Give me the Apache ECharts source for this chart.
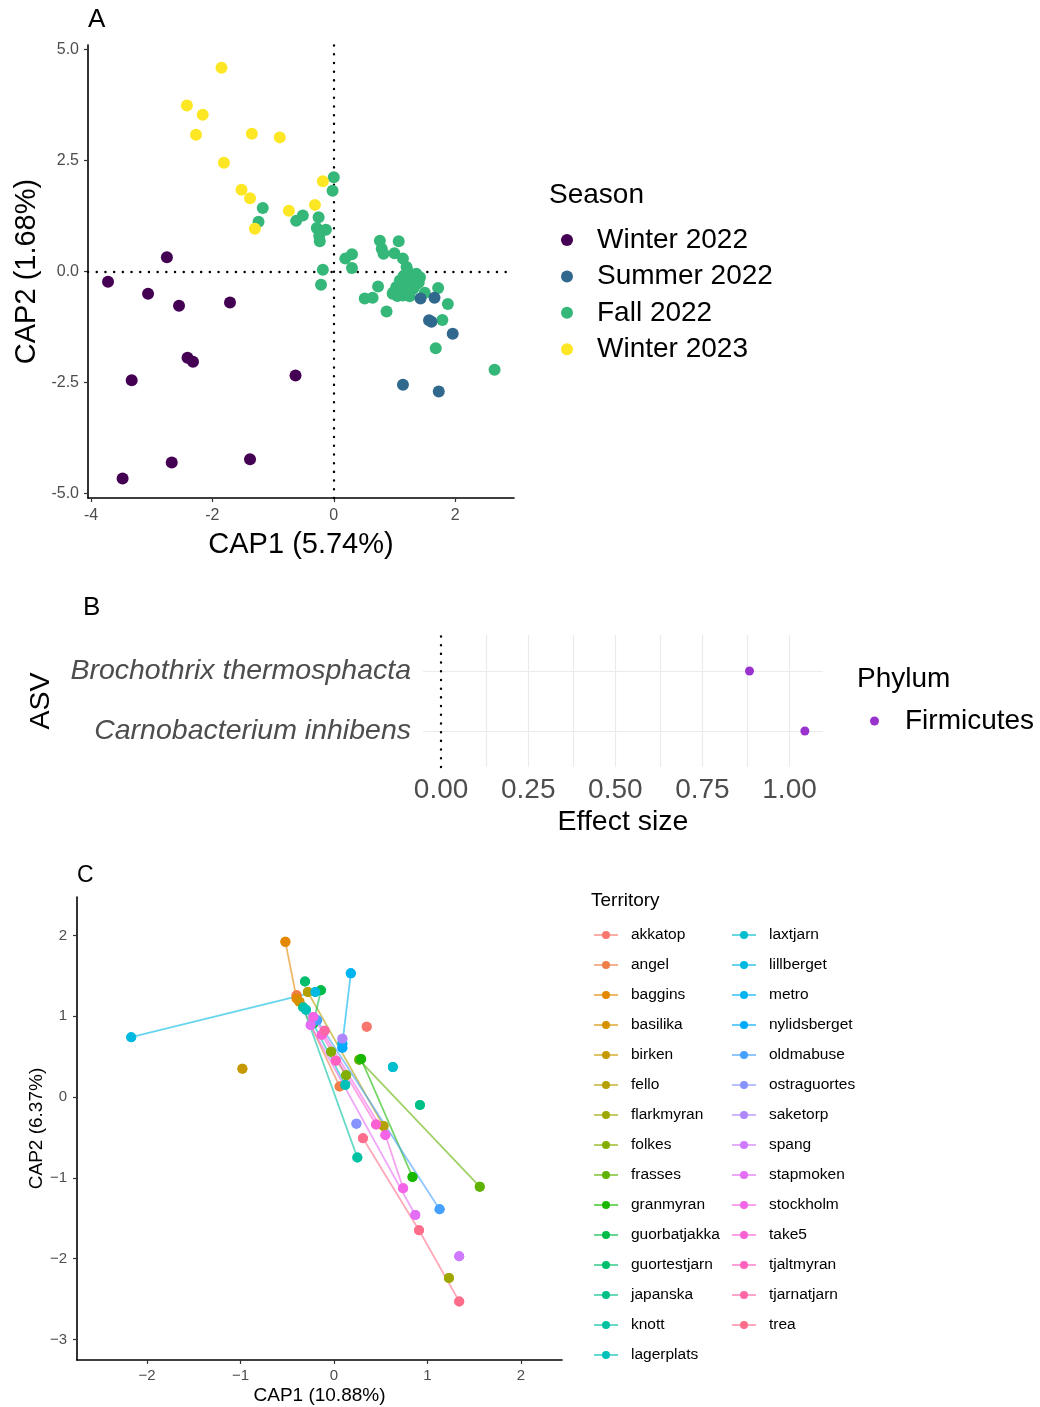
<!DOCTYPE html>
<html>
<head>
<meta charset="utf-8">
<script src="https://cdn.jsdelivr.net/npm/echarts@6/dist/echarts.min.js"></script>
<style>
  html, body { margin: 0; padding: 0; background: #fff; }
  #chart { width: 1040px; height: 1407px; }
</style>
</head>
<body>
<div id="chart"></div>
<script>
// ---- panel A: CAP ordination by season ----
const seasonNames = ['Winter 2022', 'Summer 2022', 'Fall 2022', 'Winter 2023']
const seasonColors = ['#440154', '#31688E', '#35B779', '#FDE725']
const winter2022 = [[-3.72, -0.23], [-2.75, 0.32], [-3.06, -0.50], [-2.55, -0.77], [-1.71, -0.70],
  [-3.33, -2.45], [-2.41, -1.94], [-2.32, -2.03], [-0.63, -2.34], [-3.48, -4.66], [-2.67, -4.30], [-1.38, -4.23]]
const summer2022 = [[1.43, -0.61], [1.66, -0.59], [1.57, -1.10], [1.61, -1.13], [1.96, -1.40], [1.14, -2.55], [1.73, -2.70]]
const fall2022 = [[0.00, 2.12], [-0.02, 1.82], [-1.17, 1.43], [-1.24, 1.12], [-0.62, 1.14], [-0.51, 1.26], [-0.25, 1.22],
  [-0.28, 0.98], [-0.13, 0.94], [-0.24, 0.80], [-0.23, 0.68], [-0.18, 0.04], [-0.21, -0.30], [0.19, 0.29], [0.30, 0.39],
  [0.30, 0.08], [0.76, 0.69], [1.07, 0.68], [0.79, 0.51], [0.82, 0.40], [1.00, 0.41], [1.14, 0.29], [0.73, -0.34],
  [0.51, -0.61], [0.64, -0.59], [0.87, -0.90], [0.97, -0.50], [1.50, -0.48], [1.72, -0.37], [1.88, -0.73], [1.79, -1.09],
  [1.68, -1.73], [2.65, -2.21], [1.20, 0.10], [1.36, -0.05], [1.42, -0.13], [1.09, -0.20], [1.25, -0.24], [0.98, -0.47],
  [1.14, -0.54], [1.25, -0.56], [1.03, -0.35], [1.20, -0.35], [1.31, -0.39], [1.15, -0.10], [1.30, -0.15], [1.10, -0.45],
  [1.35, -0.30], [1.05, -0.55], [1.22, 0.00], [1.40, -0.25]]
const winter2023 = [[-1.85, 4.59], [-2.42, 3.74], [-2.16, 3.53], [-2.27, 3.08], [-1.35, 3.10], [-0.89, 3.02], [-1.81, 2.45],
  [-1.52, 1.84], [-1.38, 1.65], [-0.74, 1.37], [-0.31, 1.50], [-0.18, 2.03], [-1.30, 0.96]]
const capATicksX = [-4, -2, 0, 2]
const capATicksY = [-5, -2.5, 0, 2.5, 5]

// ---- panel B: indicator ASVs ----
const asvNames = ['Carnobacterium inhibens', 'Brochothrix thermosphacta']
const effectSizes = [1.044, 0.885]
const effectTicks = [0, 0.25, 0.5, 0.75, 1]
const effectMinor = [0.125, 0.375, 0.625, 0.875]

// ---- panel C: territories ----
const territoryNames = ['akkatop', 'angel', 'baggins', 'basilika', 'birken', 'fello', 'flarkmyran', 'folkes', 'frasses',
  'granmyran', 'guorbatjakka', 'guortestjarn', 'japanska', 'knott', 'lagerplats', 'laxtjarn', 'lillberget', 'metro',
  'nylidsberget', 'oldmabuse', 'ostraguortes', 'saketorp', 'spang', 'stapmoken', 'stockholm', 'take5', 'tjaltmyran',
  'tjarnatjarn', 'trea']
// one path per territory, same order as the names
const territoryPaths = [
  [[0.35, 0.87]],                              // akkatop
  [[-0.40, 1.26], [0.06, 0.13]],               // angel
  [[-0.52, 1.92], [-0.40, 1.22]],              // baggins
  [[-0.37, 1.18]],                             // basilika
  [[-0.98, 0.35]],                             // birken
  [[-0.28, 1.30], [0.53, -0.36]],              // fello
  [[1.23, -2.24]],                             // flarkmyran
  [[-0.03, 0.56], [0.13, 0.27]],               // folkes
  [[0.27, 0.46], [1.56, -1.11]],               // frasses
  [[0.29, 0.47], [0.84, -0.99]],               // granmyran
  [[-0.14, 1.32], [-0.22, 0.91]],              // guorbatjakka
  [[-0.31, 1.43]],                             // guortestjarn
  [[0.92, -0.10]],                             // japanska
  [[-0.33, 1.11], [0.25, -0.75]],              // knott
  [[-0.30, 1.08], [0.12, 0.15]],               // lagerplats
  [[0.63, 0.37]],                              // laxtjarn
  [[-2.17, 0.74], [-0.20, 1.30]],              // lillberget
  [[0.18, 1.53], [0.09, 0.66]],                // metro
  [[0.09, 0.61]],                              // nylidsberget
  [[-0.18, 0.95], [1.13, -1.39]],              // oldmabuse
  [[0.24, -0.33]],                             // ostraguortes
  [[0.09, 0.72]],                              // saketorp
  [[1.34, -1.97]],                             // spang
  [[-0.25, 0.89], [0.87, -1.46]],              // stapmoken
  [[-0.22, 0.99], [0.55, -0.47], [0.74, -1.13]], // stockholm
  [[-0.13, 0.77], [0.45, -0.34]],              // take5
  [[0.02, 0.45]],                              // tjaltmyran
  [[-0.10, 0.82]],                             // tjarnatjarn
  [[0.31, -0.51], [0.91, -1.65], [1.34, -2.53]] // trea
]
const capCTicksX = [-2, -1, 0, 1, 2]
const capCTicksY = [-3, -2, -1, 0, 1, 2]

const FONT = 'Liberation Sans, Arial, sans-serif'
const GREY = '#4d4d4d'

// ggplot default hue palette (hcl with c=100, l=65)
function hcl(h, c, l) {
  const hr = h * Math.PI / 180
  const U = c * Math.cos(hr)
  const V = c * Math.sin(hr)
  const Xn = 95.047, Yn = 100, Zn = 108.883
  const d = Xn + 15 * Yn + 3 * Zn
  const un = 4 * Xn / d, vn = 9 * Yn / d
  const Y = l > 8 ? Yn * Math.pow((l + 16) / 116, 3) : Yn * l / 903.3
  const u = U / (13 * l) + un
  const v = V / (13 * l) + vn
  const X = 9 * Y * u / (4 * v)
  const Z = -X / 3 - 5 * Y + 3 * Y / v
  const x = X / 100, y = Y / 100, z = Z / 100
  const lin = [
    3.240479 * x - 1.537150 * y - 0.498535 * z,
    -0.969256 * x + 1.875992 * y + 0.041556 * z,
    0.055648 * x - 0.204043 * y + 1.057311 * z
  ]
  const rgb = lin.map(t => {
    const g = t <= 0.0031308 ? 12.92 * t : 1.055 * Math.pow(t, 1 / 2.4) - 0.055
    return Math.round(Math.min(1, Math.max(0, g)) * 255)
  })
  return 'rgb(' + rgb.join(',') + ')'
}
const territoryColors = territoryNames.map((n, i) => hcl(15 + i * 360 / territoryNames.length, 100, 65))

const dotted = { color: '#000', width: 2.4, type: [0.1, 8.6], cap: 'round' }
const gridLine = { color: '#ebebeb', width: 1.2, type: 'solid' }
const minus = v => String(v).replace('-', '\u2212')

const chart = echarts.init(document.getElementById('chart'))

const seasonData = [winter2022, summer2022, fall2022, winter2023]
const drawOrder = [2, 1, 0, 3]
const seriesA = drawOrder.map((k, j) => ({
  type: 'scatter',
  name: seasonNames[k],
  xAxisIndex: 0,
  yAxisIndex: 0,
  data: seasonData[k],
  symbolSize: 12,
  itemStyle: { color: seasonColors[k], opacity: 1 },
  z: 3,
  markLine: j === 0 ? {
    silent: true, symbol: 'none', z: 1, animation: false,
    label: { show: false }, lineStyle: dotted,
    data: [{ xAxis: 0 }, { yAxis: 0 }]
  } : undefined
}))

const seriesB = [{
  type: 'scatter',
  name: 'Firmicutes',
  xAxisIndex: 1,
  yAxisIndex: 1,
  data: effectSizes.map((v, i) => [v, i + 1]),
  symbolSize: 9,
  itemStyle: { color: '#9A32CD', opacity: 1 },
  z: 3,
  markLine: {
    silent: true, symbol: 'none', z: 1, animation: false,
    label: { show: false },
    data: effectMinor.map(v => ({ xAxis: v, lineStyle: gridLine }))
      .concat(effectTicks.slice(1).map(v => ({ xAxis: v, lineStyle: gridLine })))
      .concat(asvNames.map((n, i) => ({ yAxis: i + 1, lineStyle: gridLine })))
      .concat([{ xAxis: 0, lineStyle: dotted }])
  }
}]

const linesC = territoryNames.map((n, i) => ({
  type: 'line',
  name: n,
  xAxisIndex: 2,
  yAxisIndex: 2,
  data: territoryPaths[i],
  symbol: 'circle',
  symbolSize: 10,
  showSymbol: true,
  showAllSymbol: true,
  lineStyle: { color: territoryColors[i], width: 1.8, opacity: 0.6 },
  itemStyle: { color: territoryColors[i] },
  z: 2
}))
const pointsC = territoryNames.map((n, i) => ({
  type: 'scatter',
  name: n,
  xAxisIndex: 2,
  yAxisIndex: 2,
  data: territoryPaths[i],
  symbolSize: 10,
  itemStyle: { color: territoryColors[i], opacity: 1 },
  z: 4
}))

const axisA = {
  axisLine: { onZero: false, lineStyle: { color: '#000', width: 1.6 } },
  axisTick: { length: 4, lineStyle: { color: '#333', width: 1.2 } },
  splitLine: { show: false }
}

const legendText = (size, pad) => ({
  fontFamily: FONT, fontSize: size, color: '#000', lineHeight: size, padding: [0, 0, 0, pad]
})

const option = {
  animation: false,
  backgroundColor: '#fff',
  textStyle: { fontFamily: FONT },
  title: [
    { text: 'A', left: 88, top: 7 },
    { text: 'Season', left: 549, top: 181 },
    { text: 'B', left: 83, top: 595 },
    { text: 'Phylum', left: 857, top: 665 },
    { text: 'C', left: 77, top: 864 },
    { text: 'Territory', left: 591, top: 891 }
  ].map((t, i) => ({
    text: t.text, left: t.left, top: t.top, padding: 0,
    textStyle: {
      fontFamily: FONT, fontWeight: 'normal', color: '#000',
      fontSize: [26, 28, 26, 28, 23, 19][i]
    }
  })),
  legend: [
    {
      data: seasonNames, orient: 'vertical', left: 561, top: 226, padding: 0,
      itemWidth: 12, itemHeight: 12, itemGap: 8.4, icon: 'circle', selectedMode: false,
      textStyle: legendText(28, 19)
    },
    {
      data: ['Firmicutes'], orient: 'vertical', left: 870, top: 707, padding: 0,
      itemWidth: 9, itemHeight: 9, icon: 'circle', selectedMode: false,
      textStyle: legendText(28, 21)
    },
    {
      data: territoryNames.slice(0, 15), orient: 'vertical', left: 593, top: 927, padding: 0,
      itemWidth: 24, itemHeight: 10, itemGap: 14, selectedMode: false,
      textStyle: legendText(15.5, 8)
    },
    {
      data: territoryNames.slice(15), orient: 'vertical', left: 731, top: 927, padding: 0,
      itemWidth: 24, itemHeight: 10, itemGap: 14, selectedMode: false,
      textStyle: legendText(15.5, 8)
    }
  ],
  grid: [
    { left: 88, top: 45, width: 426, height: 453 },
    { left: 423, top: 635, width: 400, height: 132 },
    { left: 77, top: 897, width: 485, height: 463 }
  ],
  xAxis: [
    Object.assign({}, axisA, {
      type: 'value', gridIndex: 0, min: -4.05, max: 2.97,
      name: 'CAP1 (5.74%)', nameLocation: 'middle', nameGap: 32,
      nameTextStyle: { fontFamily: FONT, fontSize: 29, color: '#000' },
      axisTick: Object.assign({}, axisA.axisTick, { customValues: capATicksX }),
      axisLabel: { customValues: capATicksX, margin: 10, fontSize: 16, color: GREY, fontFamily: FONT }
    }),
    {
      type: 'value', gridIndex: 1, min: -0.052, max: 1.096,
      name: 'Effect size', nameLocation: 'middle', nameGap: 41,
      nameTextStyle: { fontFamily: FONT, fontSize: 28.5, color: '#000' },
      axisLine: { show: false }, axisTick: { show: false }, splitLine: { show: false },
      axisLabel: { customValues: effectTicks, margin: 9, fontSize: 28, color: GREY, fontFamily: FONT,
        formatter: v => v.toFixed(2) }
    },
    Object.assign({}, axisA, {
      type: 'value', gridIndex: 2, min: -2.75, max: 2.44,
      name: 'CAP1 (10.88%)', nameLocation: 'middle', nameGap: 26,
      nameTextStyle: { fontFamily: FONT, fontSize: 19, color: '#000' },
      axisTick: Object.assign({}, axisA.axisTick, { customValues: capCTicksX }),
      axisLabel: { customValues: capCTicksX, margin: 8, fontSize: 15, color: GREY, fontFamily: FONT, formatter: minus }
    })
  ],
  yAxis: [
    Object.assign({}, axisA, {
      type: 'value', gridIndex: 0, min: -5.1, max: 5.1,
      name: 'CAP2 (1.68%)', nameLocation: 'middle', nameGap: 47,
      nameTextStyle: { fontFamily: FONT, fontSize: 29, color: '#000' },
      axisTick: Object.assign({}, axisA.axisTick, { customValues: capATicksY }),
      axisLabel: { customValues: capATicksY, margin: 9, fontSize: 16, color: GREY, fontFamily: FONT,
        formatter: v => v.toFixed(1) }
    }),
    {
      type: 'value', gridIndex: 1, min: 0.4, max: 2.6,
      name: 'ASV', nameLocation: 'middle', nameGap: 367,
      nameTextStyle: { fontFamily: FONT, fontSize: 28.5, color: '#000' },
      axisLine: { show: false }, axisTick: { show: false }, splitLine: { show: false },
      axisLabel: { customValues: [1, 2], margin: 12, fontSize: 28.5, color: GREY, fontFamily: FONT,
        fontStyle: 'italic', formatter: v => asvNames[Math.round(v) - 1] }
    },
    Object.assign({}, axisA, {
      type: 'value', gridIndex: 2, min: -3.255, max: 2.475,
      name: 'CAP2 (6.37%)', nameLocation: 'middle', nameGap: 27,
      nameTextStyle: { fontFamily: FONT, fontSize: 19, color: '#000' },
      axisTick: Object.assign({}, axisA.axisTick, { customValues: capCTicksY }),
      axisLabel: { customValues: capCTicksY, margin: 10, fontSize: 15, color: GREY, fontFamily: FONT, formatter: minus }
    })
  ],
  series: seriesA.concat(seriesB, linesC, pointsC)
}

chart.setOption(option)
</script>
</body>
</html>
